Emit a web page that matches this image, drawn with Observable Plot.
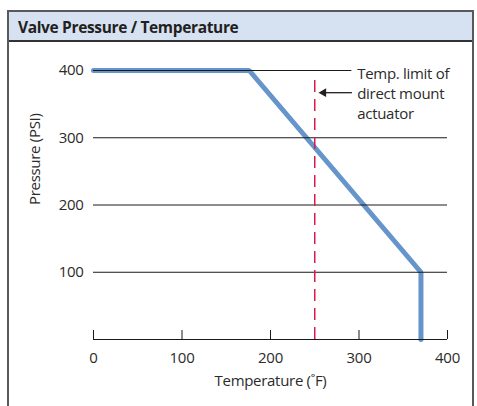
<!DOCTYPE html>
<html>
<head>
<meta charset="utf-8">
<script src="https://cdn.jsdelivr.net/npm/d3@7"></script>
<script src="https://cdn.jsdelivr.net/npm/@observablehq/plot@0.6"></script>
<style>
  html, body { margin: 0; padding: 0; background: #fff; }
  #wrap { position: relative; width: 477px; height: 406px; overflow: hidden; font-family: "Open Sans", sans-serif; }
  #frame { position: absolute; left: 7px; top: 10px; width: 467px; height: 410px; border: 2px solid #58595b; box-sizing: border-box; }
  #header { position: absolute; left: 0; top: 0; right: 0; height: 30px; background: #d6e1f2; border-bottom: 2px solid #333; box-sizing: border-box; }
  #title { position: absolute; left: 9px; top: 4px; font-weight: bold; font-size: 15.5px; color: #231f20; letter-spacing: -0.35px; }
  #chart { position: absolute; left: 0; top: 0; }
</style>
</head>
<body>
<div id="wrap">
  <div id="frame"><div id="header"><div id="title">Valve Pressure / Temperature</div></div></div>
  <div id="chart"></div>
</div>
<script>
// Data
const temperature = [0, 176, 370, 370];
const pressure = [400, 400, 100, 0];
const xTicks = [0, 100, 200, 300, 400];
const yTicks = [100, 200, 300, 400];
const xLabel = "Temperature (˚F)";
const yLabel = "Pressure (PSI)";
const actuatorLimit = 250;      // °F, dashed line
const actuatorTop = 393;        // top of dashed line (PSI)
const noteText = ["Temp. limit of", "direct mount", "actuator"];
const noteX = 298, noteY = 367;           // annotation anchor (data units)
const arrowFrom = 292, arrowTo = 256;     // arrow extent (°F)
const leaderEnd = 292;                    // 400 gridline runs to the note

const curve = temperature.map((t, i) => ({t, p: pressure[i]}));
const ink = "#2b2b2b";

const chart = Plot.plot({
  width: 477,
  height: 406,
  marginLeft: 93,
  marginRight: 30,
  marginTop: 70,
  marginBottom: 67,
  style: {fontFamily: "Open Sans, sans-serif", fontSize: "15px", color: ink, background: "transparent", letterSpacing: "-0.3px"},
  x: {domain: [0, 400]},
  y: {domain: [0, 400]},
  marks: [
    Plot.line(curve, {x: "t", y: "p", stroke: "#6595ca", strokeWidth: 5, strokeLinejoin: "miter"}),
    Plot.ruleY(yTicks.filter(d => d !== 400), {x1: 0, x2: 400, stroke: "#1a1a1a", strokeWidth: 1}),
    Plot.ruleY([400], {x1: 0, x2: leaderEnd, stroke: "#1a1a1a", strokeWidth: 1}),
    Plot.ruleX([actuatorLimit], {y1: 0, y2: actuatorTop, stroke: "#d81b4d", strokeWidth: 1.5, strokeDasharray: "12,7"}),
    Plot.link([{x1: arrowFrom, x2: arrowTo + 3, y: noteY}], {x1: "x1", x2: "x2", y1: "y", y2: "y", stroke: "#231f20", strokeWidth: 1.3}),
    Plot.dot([{x: arrowTo + 4, y: noteY}], {x: "x", y: "y", symbol: "triangle2", r: 4.2, rotate: -90, fill: "#231f20", stroke: null}),
    Plot.text([noteText.join("\n")], {x: noteX, y: noteY, text: d => d, textAnchor: "start", lineAnchor: "middle", lineHeight: 1.33, fontSize: 15, fill: ink}),
    Plot.axisY(yTicks, {tickSize: 0, tickPadding: 10, label: null, fontSize: 15, fill: ink}),
    Plot.ruleY([0], {x1: 0, x2: 400, stroke: "#1a1a1a", strokeWidth: 1}),
    Plot.axisX(xTicks, {tickSize: -9, tickPadding: 22, label: null, stroke: "#1a1a1a", fontSize: 15, fill: ink}),
    Plot.text([yLabel], {frameAnchor: "left", dx: -58, rotate: -90, text: d => d, fontSize: 15, fill: ink}),
    Plot.text([xLabel], {frameAnchor: "bottom", dy: 46, text: d => d, fontSize: 15, fill: ink})
  ]
});
document.getElementById("chart").appendChild(chart);
</script>
</body>
</html>
